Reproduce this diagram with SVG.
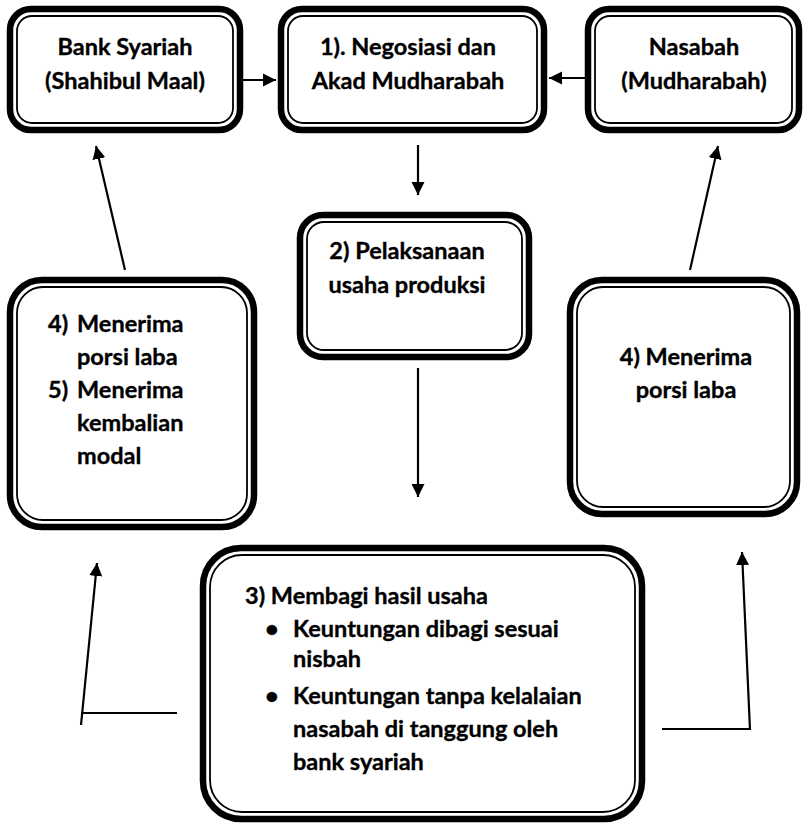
<svg xmlns="http://www.w3.org/2000/svg" width="806" height="825" viewBox="0 0 806 825">
<defs>
<style>
.outer{fill:#fff;stroke:#000;stroke-width:6.5}
.inner{fill:none;stroke:#000;stroke-width:1.8}
.t{font-family:Lato,"Liberation Sans",sans-serif;font-weight:bold;font-size:23.5px;fill:#000;stroke:#000;stroke-width:0.35}
.c{text-anchor:middle}
.ln{stroke:#000;stroke-width:2.2;fill:none}
</style>
<marker id="ah" markerUnits="userSpaceOnUse" markerWidth="14" markerHeight="14" refX="13" refY="7" orient="auto" viewBox="0 0 14 14">
<path d="M0,0.5 L13,7 L0,13.5 z" fill="#000"/>
</marker>
</defs>
<rect width="806" height="825" fill="#fff"/>
<g id="bank">
<rect class="outer" x="10" y="9" width="230" height="121" rx="21"/>
<rect class="inner" x="17" y="16" width="216" height="107" rx="15"/>
<text class="t c" x="125" y="55">Bank Syariah</text>
<text class="t c" x="125" y="89">(Shahibul Maal)</text>
</g>
<g id="negosiasi">
<rect class="outer" x="281" y="9" width="263" height="121" rx="21"/>
<rect class="inner" x="288" y="16" width="249" height="107" rx="15"/>
<text class="t c" x="408" y="55">1). Negosiasi dan</text>
<text class="t c" x="408" y="89">Akad Mudharabah</text>
</g>
<g id="nasabah">
<rect class="outer" x="588" y="9" width="211" height="121" rx="21"/>
<rect class="inner" x="595" y="16" width="197" height="107" rx="15"/>
<text class="t c" x="694" y="55">Nasabah</text>
<text class="t c" x="694" y="89">(Mudharabah)</text>
</g>
<g id="pelaksanaan">
<rect class="outer" x="300" y="215" width="229" height="142" rx="23"/>
<rect class="inner" x="307" y="222" width="215" height="128" rx="17"/>
<text class="t c" x="407" y="259">2) Pelaksanaan</text>
<text class="t c" x="407" y="293">usaha produksi</text>
</g>
<g id="bank-terima">
<rect class="outer" x="10" y="280" width="244" height="247" rx="32"/>
<rect class="inner" x="17" y="287" width="230" height="233" rx="26"/>
<text class="t" x="48" y="332">4)</text>
<text class="t" x="77" y="332">Menerima</text>
<text class="t" x="77" y="365">porsi laba</text>
<text class="t" x="48" y="398">5)</text>
<text class="t" x="77" y="398">Menerima</text>
<text class="t" x="77" y="431">kembalian</text>
<text class="t" x="77" y="464">modal</text>
</g>
<g id="nasabah-terima">
<rect class="outer" x="570" y="280" width="227" height="234" rx="32"/>
<rect class="inner" x="577" y="287" width="213" height="220" rx="26"/>
<text class="t c" x="686" y="365">4) Menerima</text>
<text class="t c" x="686" y="398">porsi laba</text>
</g>
<g id="membagi">
<rect class="outer" x="203" y="548" width="439" height="271" rx="38"/>
<rect class="inner" x="210" y="555" width="425" height="257" rx="32"/>
<text class="t" x="245" y="604">3) Membagi hasil usaha</text>
<text class="t" x="265" y="637">•</text>
<text class="t" x="293" y="637">Keuntungan dibagi sesuai</text>
<text class="t" x="293" y="667">nisbah</text>
<text class="t" x="265" y="704">•</text>
<text class="t" x="293" y="704">Keuntungan tanpa kelalaian</text>
<text class="t" x="293" y="737">nasabah di tanggung oleh</text>
<text class="t" x="293" y="770">bank syariah</text>
</g>
<g id="connectors">
<line class="ln" x1="243" y1="80" x2="276" y2="80" marker-end="url(#ah)"/>
<line class="ln" x1="585" y1="78" x2="549" y2="78" marker-end="url(#ah)"/>
<line class="ln" x1="418" y1="145" x2="418" y2="195" marker-end="url(#ah)"/>
<line class="ln" x1="418" y1="368" x2="418" y2="497" marker-end="url(#ah)"/>
<line class="ln" x1="125" y1="270" x2="96" y2="146" marker-end="url(#ah)"/>
<line class="ln" x1="690" y1="270" x2="718" y2="146" marker-end="url(#ah)"/>
<line class="ln" x1="177" y1="713" x2="81" y2="713"/>
<line class="ln" x1="81" y1="725" x2="97" y2="563" marker-end="url(#ah)"/>
<line class="ln" x1="662" y1="729" x2="751" y2="729"/>
<line class="ln" x1="750" y1="730" x2="742" y2="552" marker-end="url(#ah)"/>
</g>
</svg>
